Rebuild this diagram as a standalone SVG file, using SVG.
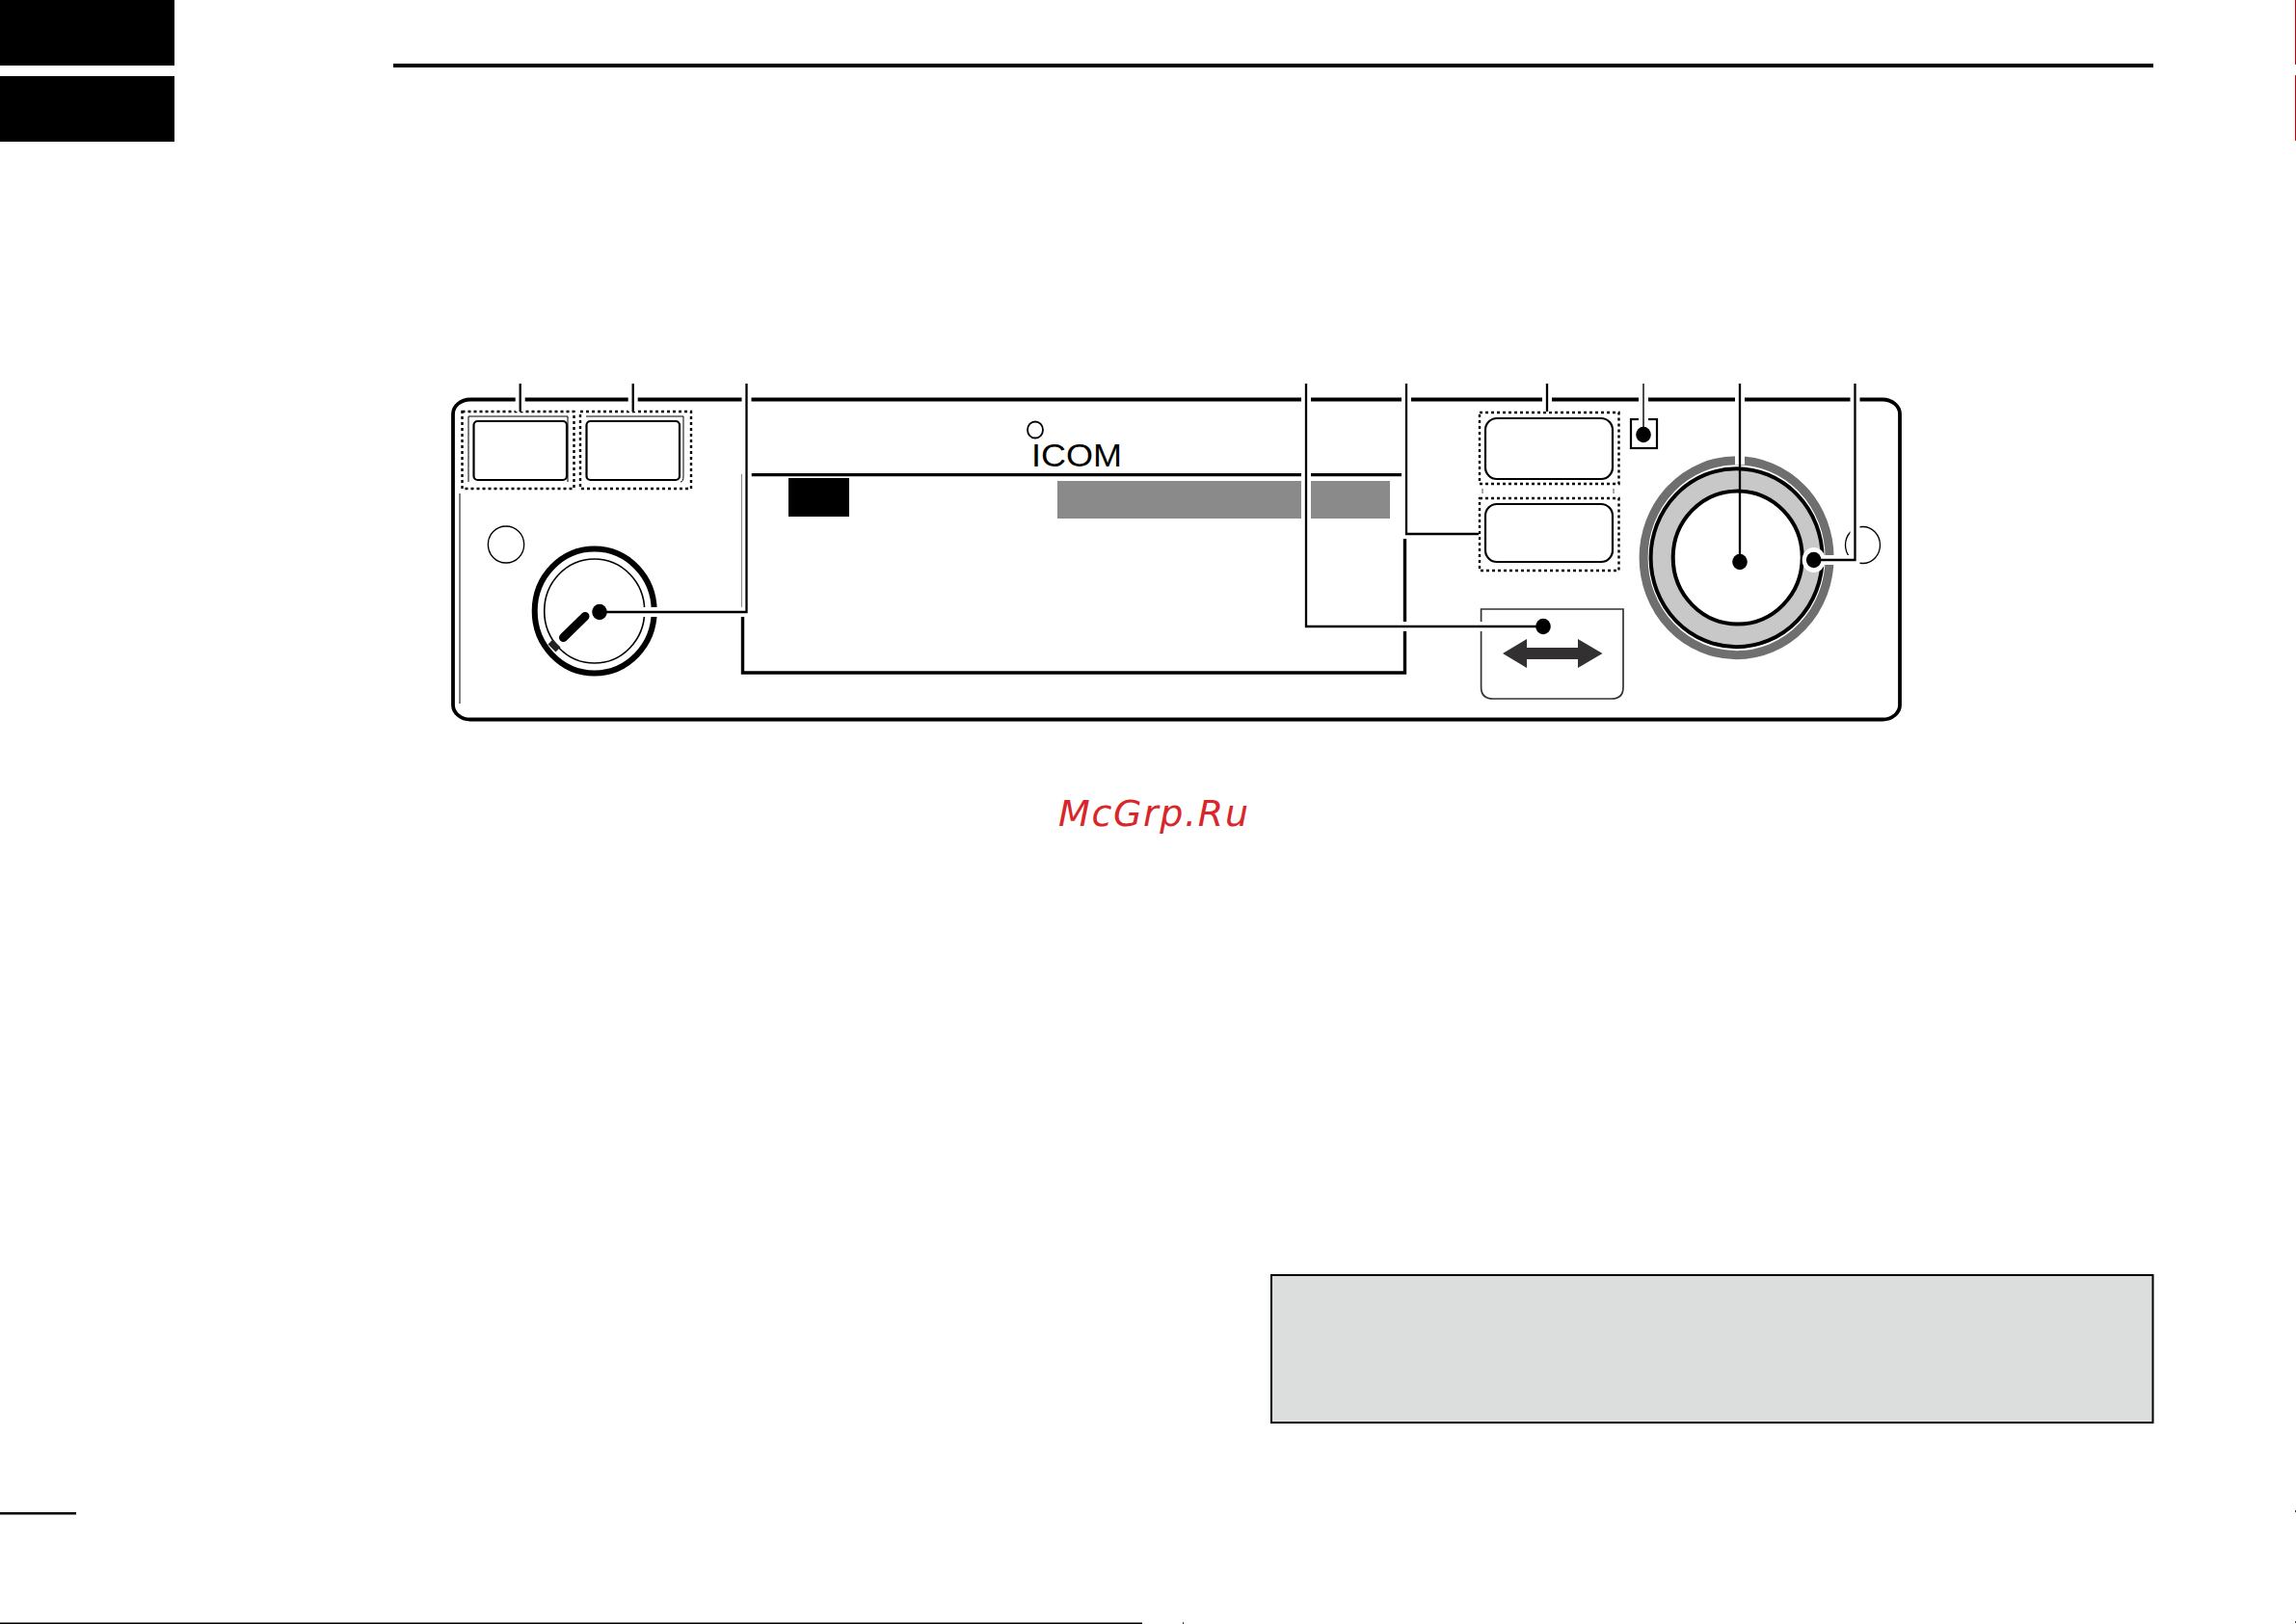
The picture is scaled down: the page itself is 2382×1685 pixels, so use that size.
<svg xmlns="http://www.w3.org/2000/svg" width="2382" height="1685" viewBox="0 0 2382 1685">
<style>
.k{fill:#000}
.n{fill:none;stroke:#000}
.dot{fill:none;stroke:#000;stroke-width:2.4;stroke-dasharray:3 3}
.btn{fill:#fff;stroke:#000;stroke-width:2.2}
.thin{fill:none;stroke:#000;stroke-width:1}
.halo{fill:none;stroke:#fff;stroke-width:10}
.lead{fill:none;stroke:#000;stroke-width:2.3}
.pin{fill:#000}
</style>
<rect width="2382" height="1685" fill="#fff"/>
<g id="page-marks">
<rect class="k" x="0" y="0" width="181" height="68"/>
<rect class="k" x="0" y="79" width="181" height="68"/>
<rect class="k" x="408" y="66" width="1826" height="4"/>
<rect x="2381" y="0" width="1" height="67" fill="#d40000"/>
<rect x="2381" y="78" width="1" height="68" fill="#d40000"/>
<rect class="k" x="0" y="1569" width="79" height="2.5"/>
<rect class="k" x="0" y="1683.5" width="1185" height="1.5"/>
<rect x="1227" y="1683" width="1" height="2" fill="#444"/>
<rect x="2381" y="1567" width="1" height="2" fill="#444"/>
<rect x="2381" y="1682" width="1" height="2" fill="#444"/>
</g>
<g id="panel">
<rect class="n" x="470" y="414.5" width="1501" height="332" rx="18" ry="15" stroke-width="3.8"/>
<path class="thin" d="M477 512V730"/>
<ellipse class="thin" cx="525" cy="565" rx="18.7" ry="19" style="stroke-width:1.3"/>
<ellipse class="thin" cx="1932.5" cy="565.5" rx="18" ry="19" style="stroke-width:1.3"/>
<path class="n" stroke-width="3.2" d="M779.5 492.7H1454"/>
</g>
<g id="button-1">
<rect class="dot" x="479.5" y="427" width="116" height="80"/>
<path class="thin" d="M486 500V432H589V500"/>
<rect class="btn" x="491.5" y="437" width="96.5" height="61" rx="4"/>
</g>
<g id="button-2">
<rect class="dot" x="602" y="427" width="115" height="80"/>
<path class="thin" d="M608 432H709V494Q709 500 706 500"/>
<rect class="btn" x="608.5" y="437" width="96.5" height="61" rx="4"/>
</g>
<g id="volume-knob">
<ellipse class="n" cx="616.7" cy="634" rx="62" ry="64.5" stroke-width="6"/>
<ellipse class="n" cx="616.7" cy="634" rx="52" ry="54" stroke-width="1.6"/>
<path class="n" stroke-width="9" stroke-linecap="round" d="M607 639.5L584.5 661.5"/>
<path fill="none" stroke="#222" stroke-width="7" d="M571 666L579 674"/>
</g>
<g id="logo">
<ellipse class="n" cx="1074" cy="446" rx="8" ry="8.5" stroke-width="1.8"/>
<text x="1070" y="484" font-family="'Liberation Sans',Arial,sans-serif" font-size="34" textLength="94" lengthAdjust="spacingAndGlyphs">ICOM</text>
</g>
<g id="display">
<rect class="k" x="818" y="496" width="63" height="40"/>
<rect x="1097" y="499" width="345" height="39" fill="#8a8a8a"/>
</g>
<g id="display-frame">
<path class="thin" d="M769.6 491.7V630"/>
<path class="n" stroke-width="3.4" d="M770.5 640V698H1457.5V559"/>
</g>
<g id="button-3">
<rect class="dot" x="1535" y="428" width="144.5" height="74"/>
<rect class="btn" x="1541" y="434" width="132" height="63" rx="12"/>
</g>
<g id="button-4">
<path stroke="#555" stroke-width="1" d="M1538 507V512M1674 507V512"/>
<rect class="dot" x="1535" y="517" width="144.5" height="75"/>
<rect class="btn" x="1541" y="523" width="132" height="60" rx="12"/>
</g>
<g id="indicator">
<rect class="n" x="1692" y="435" width="27" height="30" stroke-width="2.2"/>
</g>
<g id="mode-key">
<path fill="none" stroke="#333" stroke-width="1.7" d="M1536.6 632H1684V713Q1684 725 1672 725H1549Q1536.6 725 1536.6 713Z"/>
<path fill="#333031" d="M1559 678L1584 663V672H1637V663L1662.5 678L1637 693V684H1584V693Z"/>
</g>
<g id="tuning-dial">
<ellipse cx="1801.6" cy="578.7" rx="96.5" ry="101" fill="#fff" stroke="#6f6f6f" stroke-width="9"/>
<ellipse cx="1801.6" cy="578.7" rx="89" ry="92.5" fill="#c8c8c8" stroke="#000" stroke-width="4"/>
<ellipse cx="1802.7" cy="578.5" rx="67" ry="69" fill="#fff" stroke="#000" stroke-width="4"/>
</g>
<g id="connectors">
<path class="halo" d="M539.7 398V427M656.7 398V427M1605 398V427"/>
<path class="halo" d="M774.5 398V635H622"/>
<path class="halo" d="M1355 398V650H1601"/>
<path class="halo" d="M1459 398V554H1534"/>
<path class="halo" d="M1705 398V445"/>
<path class="halo" d="M1805 398V482"/>
<path class="halo" d="M1924.5 398V581H1882"/>
<ellipse cx="1881.7" cy="581" rx="12" ry="13" fill="#fff"/>
<path class="lead" d="M539.7 398V427M656.7 398V427M1605 398V427"/>
<path class="lead" d="M774.5 398V635H622"/>
<path class="lead" d="M1355 398V650H1601"/>
<path class="lead" d="M1459 398V554H1534"/>
<path class="lead" style="stroke-width:1.4" d="M1705 398V451"/>
<path class="lead" d="M1805 398V583"/>
<path class="lead" d="M1924.5 398V581H1882"/>
<ellipse class="pin" cx="622" cy="635" rx="7.8" ry="8.3"/>
<ellipse class="pin" cx="1601" cy="650" rx="7.8" ry="8.3"/>
<ellipse class="pin" cx="1705" cy="451" rx="7.8" ry="8.3"/>
<ellipse class="pin" cx="1805" cy="583" rx="7.8" ry="8.3"/>
<ellipse class="pin" cx="1881.7" cy="581" rx="7.8" ry="8.3"/>
</g>
<g id="watermark">
<text x="1098" y="856.5" font-family="'DejaVu Sans',sans-serif" font-style="italic" font-size="38" fill="#d8262a" textLength="197" lengthAdjust="spacing">McGrp.Ru</text>
</g>
<g id="note-box">
<rect x="1319" y="1323" width="914.5" height="153" fill="#dcdedd" stroke="#000" stroke-width="2"/>
</g>
</svg>
